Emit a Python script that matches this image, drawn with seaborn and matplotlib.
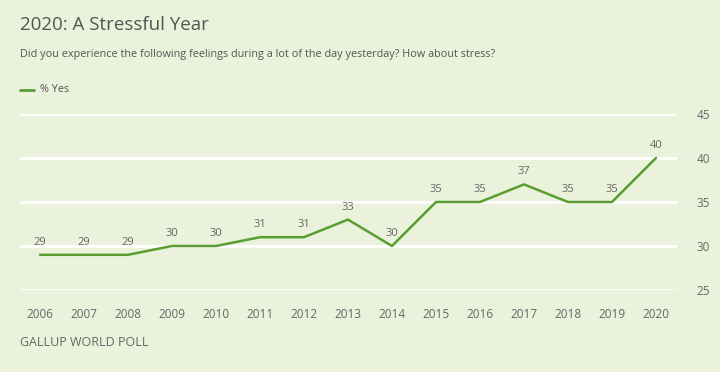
import matplotlib
matplotlib.use("Agg")
import matplotlib.pyplot as plt
import seaborn as sns
import pandas as pd

# ==================== Data ====================
years = [2006, 2007, 2008, 2009, 2010, 2011, 2012, 2013, 2014, 2015, 2016, 2017, 2018, 2019, 2020]
pct_yes = [29, 29, 29, 30, 30, 31, 31, 33, 30, 35, 35, 37, 35, 35, 40]
y_ticks = [25, 30, 35, 40, 45]

title = "2020: A Stressful Year"
subtitle = "Did you experience the following feelings during a lot of the day yesterday? How about stress?"
series_name = "% Yes"
footer = "GALLUP WORLD POLL"

BG = "#EAF2DC"
LINE = "#5A9E32"
TEXT = "#666666"

df = pd.DataFrame({"year": years, "value": pct_yes})

sns.set_style("white")
plt.rcParams["font.family"] = ["Open Sans", "DejaVu Sans"]

fig = plt.figure(figsize=(7.2, 3.72), dpi=100, facecolor=BG)
ax = fig.add_axes([20 / 720, 1 - 290 / 372, 657 / 720, 176 / 372], facecolor=BG)

# grid lines
for yv in y_ticks:
    ax.axhline(yv, color="white", linewidth=2, zorder=1)

sns.lineplot(data=df, x="year", y="value", color=LINE, linewidth=1.8, ax=ax, zorder=3)

# data labels
for x, y in zip(years, pct_yes):
    ax.annotate(str(y), (x, y), xytext=(0, 5), textcoords="offset points",
                ha="center", va="bottom", fontsize=8, color=TEXT)

ax.set_xlim(years[0] - 20 / 44, years[-1] + 21 / 44)
ax.set_ylim(25, 45)
ax.set_xticks(years)
ax.set_xticklabels([str(y) for y in years])
ax.set_yticks(y_ticks)
ax.yaxis.tick_right()
ax.tick_params(axis="y", length=0, pad=14, labelsize=8.5, labelcolor=TEXT)
ax.tick_params(axis="x", length=7, width=2, color="white", pad=6, labelsize=8.5, labelcolor=TEXT)
ax.set_xlabel("")
ax.set_ylabel("")
for s in ax.spines.values():
    s.set_visible(False)

# titles
fig.text(20 / 720, 1 - 25 / 372, title, fontsize=13.5, color="#555555", va="center", ha="left")
fig.text(20 / 720, 1 - 55 / 372, subtitle, fontsize=7.8, color="#555555", va="center", ha="left")

# legend
fig.add_artist(plt.Line2D([20 / 720, 34 / 720], [1 - 90 / 372, 1 - 90 / 372], color=LINE, linewidth=2))
fig.text(40 / 720, 1 - 90 / 372, series_name, fontsize=7.8, color="#555555", va="center", ha="left")

# footer
fig.text(20 / 720, 1 - 342 / 372, footer, fontsize=9, fontweight="medium", color=TEXT,
         va="center", ha="left")

fig.savefig("out.png", dpi=100, facecolor=BG)
